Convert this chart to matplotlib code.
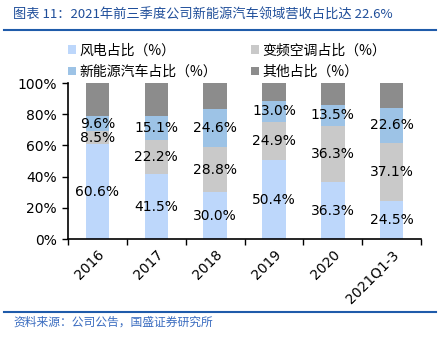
import matplotlib
matplotlib.use("Agg")
import matplotlib.pyplot as plt
import numpy as np

plt.rcParams['font.family'] = ['DejaVu Sans', 'Noto Sans CJK SC']

categories = ["2016", "2017", "2018", "2019", "2020", "2021Q1-3"]
wind = [60.6, 41.5, 30.0, 50.4, 36.3, 24.5]
ac = [8.5, 22.2, 28.8, 24.9, 36.3, 37.1]
nev = [9.6, 15.1, 24.6, 13.0, 13.5, 22.6]
other = [100 - a - b - c for a, b, c in zip(wind, ac, nev)]

series_names = ["风电占比（%）", "变频空调占比（%）", "新能源汽车占比（%）", "其他占比（%）"]
colors = ["#BDD7FB", "#C9C9C9", "#9DC3E6", "#8C8C8C"]

fig = plt.figure(figsize=(4.45, 3.43), dpi=100)
ax = fig.add_axes([0.153, 0.303, 0.793, 0.455])

x = np.arange(len(categories))
bottom = np.zeros(len(categories))
handles = []
for vals, col in zip([wind, ac, nev, other], colors):
    b = ax.bar(x, vals, width=0.4, bottom=bottom, color=col, edgecolor='none')
    handles.append(b)
    bottom += np.array(vals)

cum = np.zeros(len(categories))
for vals in [wind, ac, nev]:
    for i, v in enumerate(vals):
        ax.text(x[i], cum[i] + v / 2, f"{v:.1f}%", ha='center', va='center',
                fontsize=10, color='black', family=['DejaVu Sans'])
    cum += np.array(vals)

ax.set_xlim(-0.5, len(categories) - 0.5)
ax.set_ylim(0, 100)
ax.set_yticks([0, 20, 40, 60, 80, 100])
ax.set_yticklabels([f"{t}%" for t in [0, 20, 40, 60, 80, 100]], fontsize=10)
ax.set_xticks(x)
ax.set_xticklabels(categories, rotation=45, ha='right', rotation_mode='anchor', fontsize=10)
ax.tick_params(axis='x', length=0, pad=6)
ax.set_xticks(np.arange(-0.5, len(categories)), minor=True)
ax.tick_params(axis='x', which='minor', length=4, direction='out', width=1)
ax.tick_params(axis='y', length=4, direction='out', width=1, pad=4)
for s in ['top', 'right']:
    ax.spines[s].set_visible(False)
for s in ['left', 'bottom']:
    ax.spines[s].set_linewidth(1.2)

order = [0, 2, 1, 3]
fig.legend([handles[i] for i in order], [series_names[i] for i in order],
           ncol=2, loc='upper left', bbox_to_anchor=(0.125, 0.91), frameon=False,
           prop={'family': ['Noto Sans CJK SC'], 'size': 10},
           handlelength=0.55, handleheight=0.55, handletextpad=0.3,
           columnspacing=2.4, labelspacing=0.55)

title_color = "#1F4E9A"
fig.text(0.03, 0.955, "图表 11：2021年前三季度公司新能源汽车领域营收占比达 22.6%",
         fontsize=9.5, color=title_color, style='italic', ha='left', va='center',
         family=['Noto Sans CJK SC', 'DejaVu Sans'])
fig.add_artist(plt.Line2D([0.01, 0.98], [0.912, 0.912], color="#1F5BAA", linewidth=1.5))
fig.add_artist(plt.Line2D([0.01, 0.98], [0.09, 0.09], color="#1F5BAA", linewidth=1.5))
fig.text(0.03, 0.062, "资料来源：公司公告，国盛证券研究所", fontsize=8.5, color="#3A6CC0",
         style='italic', ha='left', va='center', family=['Noto Sans CJK SC', 'DejaVu Sans'])

fig.savefig("out.png", dpi=100)
